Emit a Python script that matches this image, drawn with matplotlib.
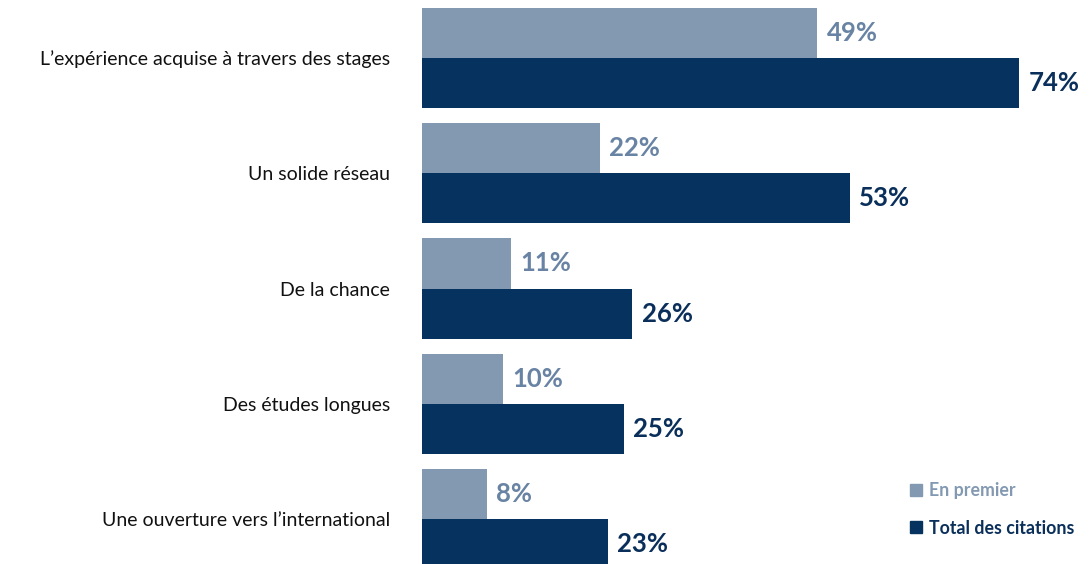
import numpy as np
import matplotlib.pyplot as plt
from matplotlib.lines import Line2D

# data
categories = ["L\u2019expérience acquise à travers des stages",
              "Un solide réseau",
              "De la chance",
              "Des études longues",
              "Une ouverture vers l\u2019international"]
en_premier = [49, 22, 11, 10, 8]
total_citations = [74, 53, 26, 25, 23]
series_names = ["En premier", "Total des citations"]

light = "#8399B2"
light_txt = "#6883A3"
dark = "#06325F"
dark_txt = "#0A2F5A"

plt.rcParams['font.family'] = ['Lato', 'DejaVu Sans']

fig = plt.figure(figsize=(10.9, 5.64), dpi=100)
ax = fig.add_axes([422 / 1090, 0, 668 / 1090, 1])

y = np.arange(len(categories))
h = 0.434
ax.barh(y - h / 2, en_premier, height=h, color=light)
ax.barh(y + h / 2, total_citations, height=h, color=dark)

for yi, v in zip(y, en_premier):
    ax.annotate(f"{v}%", (v, yi - h / 2), xytext=(7, 0), textcoords="offset points",
                va="center", ha="left", fontsize=18.5, fontweight="bold", color=light_txt)
for yi, v in zip(y, total_citations):
    ax.annotate(f"{v}%", (v, yi + h / 2), xytext=(7, 0), textcoords="offset points",
                va="center", ha="left", fontsize=18.5, fontweight="bold", color=dark_txt)

ax.set_xlim(0, 668 / 8.07)
ax.set_ylim(506 / 115.25, -58 / 115.25)
ax.set_yticks(y, categories, fontsize=14, color="#111111")
ax.tick_params(axis="y", length=0, pad=23)
ax.set_xticks([])
for s in ax.spines.values():
    s.set_visible(False)

handles = [Line2D([], [], marker="s", ls="", color=light, markersize=8),
           Line2D([], [], marker="s", ls="", color=dark, markersize=8)]
leg = ax.legend(handles, series_names, loc="lower right", bbox_to_anchor=(1.0, 0.02),
                frameon=False, handletextpad=0.1, labelspacing=1.15,
                prop={"size": 12.8, "weight": "bold"}, handlelength=1.2)
for t, c in zip(leg.get_texts(), [light, dark_txt]):
    t.set_color(c)

fig.savefig("out.png", dpi=100)
